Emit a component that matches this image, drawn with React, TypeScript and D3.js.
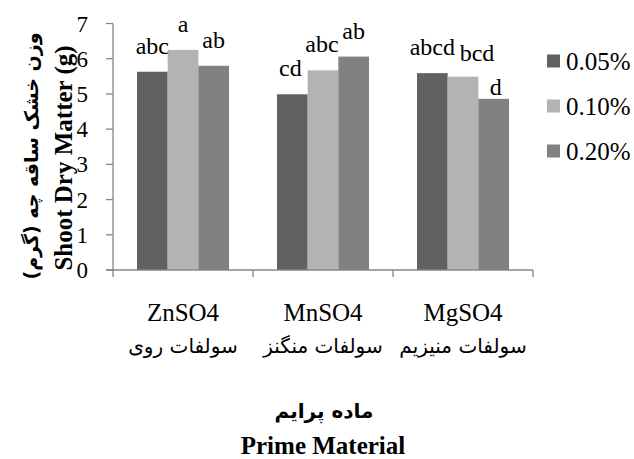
import React from "react";
import * as d3 from "d3";

const categories = ["ZnSO4", "MnSO4", "MgSO4"];
const categoriesFa = ["سولفات روی", "سولفات منگنز", "سولفات منیزیم"];
const seriesNames = ["0.05%", "0.10%", "0.20%"];
const values005 = [5.63, 4.99, 5.59];
const values010 = [6.25, 5.67, 5.49];
const values020 = [5.8, 6.06, 4.86];
const letters005 = ["abc", "cd", "abcd"];
const letters010 = ["a", "abc", "bcd"];
const letters020 = ["ab", "ab", "d"];
const yTicks = [0, 1, 2, 3, 4, 5, 6, 7];
const yTitleEn = "Shoot Dry Matter (g)";
const yTitleFa = "وزن خشک ساقه چه (گرم)";
const xTitleFa = "ماده پرایم";
const xTitleEn = "Prime Material";

const colors = ["#616161", "#b3b3b3", "#818181"];
// label nudges (dx, dy) per series per category, as Excel labels were moved by hand
const nudge005 = [[0, 0], [-2, 0], [0, 0]];
const nudge010 = [[0, 0], [-1, 0], [14, 2]];
const nudge020 = [[0, 0], [0, 0], [2, 14]];

const W = 634;
const H = 459;
const left = 113;
const right = 533;
const bottom = 270;
const top = 23.5;

const serif = "Liberation Serif, Times New Roman, Times, DejaVu Serif, serif";
const arabic = "DejaVu Sans, sans-serif";
const axisColor = "#868686";

export default function App() {
  const x = d3.scaleBand<string>().domain(categories).range([left, right]).padding(0);
  const inner = d3
    .scaleBand<string>()
    .domain(seriesNames)
    .range([24, x.bandwidth() - 24])
    .padding(0);
  const y = d3.scaleLinear().domain([0, 7]).range([bottom, top]);

  const series = [
    { name: seriesNames[0], vals: values005, labels: letters005, nudges: nudge005 },
    { name: seriesNames[1], vals: values010, labels: letters010, nudges: nudge010 },
    { name: seriesNames[2], vals: values020, labels: letters020, nudges: nudge020 },
  ];

  const boundaries = [...categories.map((c) => x(c) as number), right];
  const serifStyle = { fontFamily: serif };
  const arabicStyle = { fontFamily: arabic };

  return (
    <svg
      width={W}
      height={H}
      style={{ position: "absolute", left: 0, top: 0, background: "#fff" }}
    >
      {/* bars */}
      {series.map((s, si) =>
        categories.map((c, ci) => {
          const bx = (x(c) as number) + (inner(s.name) as number);
          return (
            <rect
              key={`b-${si}-${ci}`}
              x={bx}
              y={y(s.vals[ci])}
              width={inner.bandwidth()}
              height={y(0) - y(s.vals[ci])}
              fill={colors[si]}
            />
          );
        })
      )}

      {/* axes */}
      <line x1={left} x2={left} y1={top} y2={bottom} stroke={axisColor} strokeWidth={1.3} />
      <line x1={left - 7} x2={right} y1={bottom} y2={bottom} stroke={axisColor} strokeWidth={1.3} />
      {yTicks.map((t) => (
        <g key={`yt-${t}`}>
          <line x1={left - 7} x2={left} y1={y(t)} y2={y(t)} stroke={axisColor} strokeWidth={1.3} />
          <text x={88} y={y(t) + 8} textAnchor="end" fontSize={23} fill="#000" style={serifStyle}>
            {t}
          </text>
        </g>
      ))}
      {boundaries.map((b, i) => (
        <line key={`xt-${i}`} x1={b} x2={b} y1={bottom} y2={bottom + 7} stroke={axisColor} strokeWidth={1.3} />
      ))}

      {/* data labels */}
      {series.map((s, si) =>
        categories.map((c, ci) => {
          const cx = (x(c) as number) + (inner(s.name) as number) + inner.bandwidth() / 2;
          return (
            <text
              key={`l-${si}-${ci}`}
              x={cx + s.nudges[ci][0]}
              y={y(s.vals[ci]) - 18 + s.nudges[ci][1]}
              textAnchor="middle"
              fontSize={24}
              fill="#000"
              style={serifStyle}
            >
              {s.labels[ci]}
            </text>
          );
        })
      )}

      {/* category labels */}
      {categories.map((c, ci) => {
        const cx = (x(c) as number) + x.bandwidth() / 2;
        return (
          <g key={`c-${ci}`}>
            <text x={cx} y={321} textAnchor="middle" fontSize={25} fill="#000" style={serifStyle}>
              {c}
            </text>
            <text
              x={cx}
              y={353}
              textAnchor="middle"
              fontSize={20}
              direction="rtl"
              fill="#000"
              style={arabicStyle}
            >
              {categoriesFa[ci]}
            </text>
          </g>
        );
      })}

      {/* y titles */}
      <text
        transform={`translate(72,158) rotate(-90)`}
        textAnchor="middle"
        fontSize={25}
        fontWeight="bold"
        fill="#000"
        style={serifStyle}
      >
        {yTitleEn}
      </text>
      <text
        transform={`translate(38,156) rotate(-90)`}
        textAnchor="middle"
        fontSize={19}
        fontWeight="bold"
        direction="rtl"
        fill="#000"
        style={arabicStyle}
      >
        {yTitleFa}
      </text>

      {/* x titles */}
      <text
        x={324}
        y={418}
        textAnchor="middle"
        fontSize={20}
        fontWeight="bold"
        direction="rtl"
        fill="#000"
        style={arabicStyle}
      >
        {xTitleFa}
      </text>
      <text x={323} y={454} textAnchor="middle" fontSize={25} fontWeight="bold" fill="#000" style={serifStyle}>
        {xTitleEn}
      </text>

      {/* legend */}
      {seriesNames.map((n, i) => {
        const cy = 61 + i * 45;
        return (
          <g key={`lg-${i}`}>
            <rect x={547} y={cy - 6.5} width={13} height={13} fill={colors[i]} />
            <text x={566} y={cy + 8.5} fontSize={25} fill="#000" style={serifStyle}>
              {n}
            </text>
          </g>
        );
      })}
    </svg>
  );
}
